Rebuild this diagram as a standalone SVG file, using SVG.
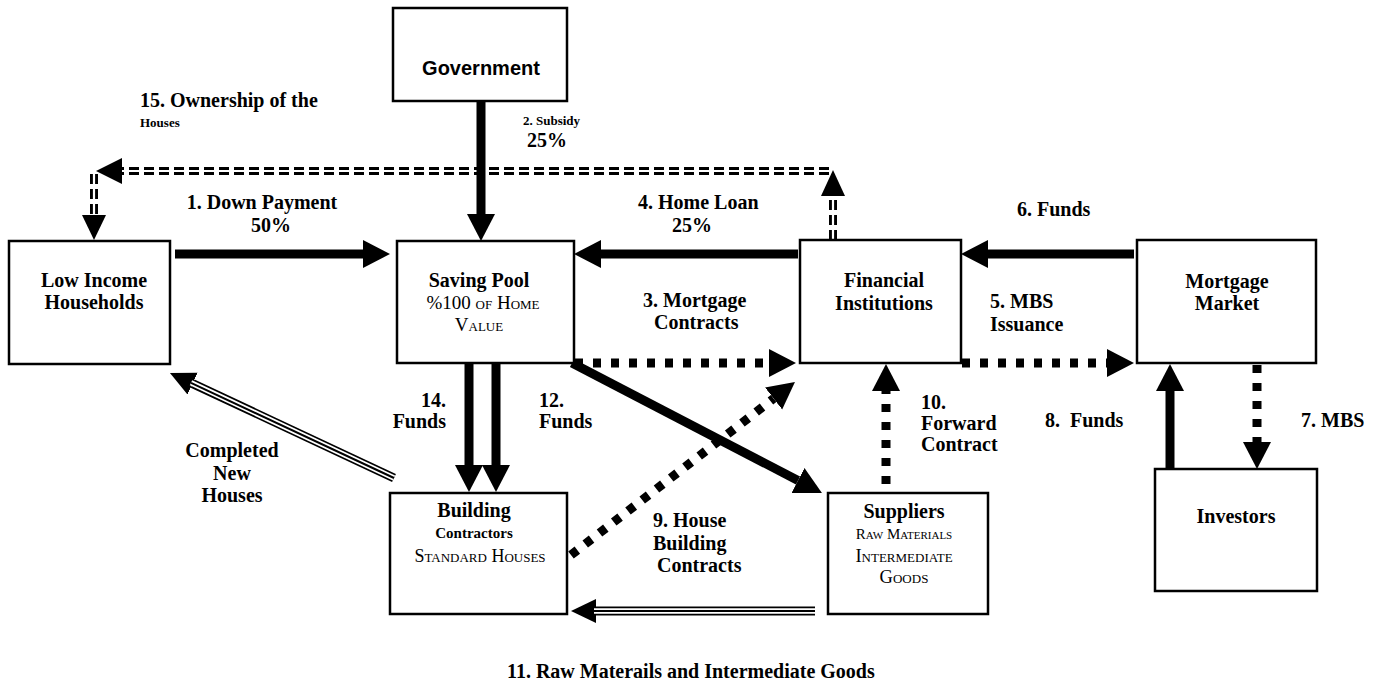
<svg xmlns="http://www.w3.org/2000/svg" width="1373" height="685" viewBox="0 0 1373 685">
<style>
.box{fill:#fff;stroke:#000;stroke-width:2.5}
.t{font-family:"Liberation Serif","Times New Roman",serif;font-weight:bold;font-size:20px;fill:#000}
.s13{font-size:13px}
.s15{font-size:15px}
.sc{font-family:"Liberation Serif","Times New Roman",serif;font-weight:normal;font-variant:small-caps;fill:#000}
.mid{text-anchor:middle}
.end{text-anchor:end}
.solid{fill:none;stroke:#000;stroke-width:9}
.dot{fill:none;stroke:#000;stroke-width:9;stroke-dasharray:8 10}
.dbl{fill:none;stroke:#000;stroke-width:8;stroke-dasharray:10 5}
.dblw{fill:none;stroke:#fff;stroke-width:2.2}
.tri1{fill:none;stroke:#000;stroke-width:9}
.tri2{fill:none;stroke:#fff;stroke-width:5.5}
.tri3{fill:none;stroke:#000;stroke-width:2}
</style>
<defs>
<marker id="ah" markerUnits="userSpaceOnUse" markerWidth="27" markerHeight="30" refX="0" refY="15" orient="auto">
<path d="M0,1 L27,15 L0,29 z" fill="#000"/>
</marker>
<marker id="ah2" markerUnits="userSpaceOnUse" markerWidth="25" markerHeight="26" refX="0" refY="13" orient="auto">
<path d="M0,1 L25,13 L0,25 z" fill="#000"/>
</marker>
</defs>
<rect width="1373" height="685" fill="#fff"/>

<g id="connectors">
<!-- 15 Ownership (double dashed) -->
<path class="dbl" d="M833,240 V196"/>
<path class="dblw" d="M833,240 V196"/>
<polygon points="833,170 821,196 845,196" fill="#000"/>
<path class="dbl" d="M829,171 H121"/>
<path class="dblw" d="M829,171 H121"/>
<polygon points="96,171 122,158 122,184" fill="#000"/>
<path class="dbl" d="M94,174 V215"/>
<path class="dblw" d="M94,174 V215"/>
<polygon points="94,240 82,215 106,215" fill="#000"/>
<!-- 1 Down payment -->
<path class="solid" d="M175,254 H363" marker-end="url(#ah)"/>
<!-- 2 Subsidy -->
<path class="solid" d="M481,101 V214" marker-end="url(#ah)"/>
<!-- 4 Home loan -->
<path class="solid" d="M798,254 H601" marker-end="url(#ah)"/>
<!-- 6 Funds -->
<path class="solid" d="M1134,254 H988" marker-end="url(#ah)"/>
<!-- 3 Mortgage contracts -->
<path class="dot" d="M575,363 H769" marker-end="url(#ah)"/>
<!-- 5 MBS issuance -->
<path class="dot" d="M962,363 H1107" marker-end="url(#ah)"/>
<!-- 7 MBS -->
<path class="dot" d="M1257,365 V442" marker-end="url(#ah)"/>
<!-- 8 Funds -->
<path class="solid" d="M1170,469 V391" marker-end="url(#ah)"/>
<!-- 10 Forward contract -->
<path class="dot" d="M886,484 V391" marker-end="url(#ah)"/>
<!-- 9 House building contracts -->
<path class="dot" d="M571,555 L773.6,398.5" marker-end="url(#ah)"/>
<!-- Saving pool to suppliers -->
<path class="solid" d="M572,363 L798,480.5" marker-end="url(#ah)"/>
<!-- 14 / 12 Funds -->
<path class="solid" d="M469,364 V465" marker-end="url(#ah)"/>
<path class="solid" d="M496,364 V465" marker-end="url(#ah)"/>
<!-- Completed new houses -->
<path class="tri1" d="M394,478 L192.6,383.6" marker-end="url(#ah2)"/>
<path class="tri2" d="M394,478 L191,382.8"/>
<path class="tri3" d="M394,478 L191,382.8"/>
<!-- 11 Raw materials -->
<path class="tri1" d="M815,611 H596" marker-end="url(#ah2)"/>
<path class="tri2" d="M815,611 H594"/>
<path class="tri3" d="M815,611 H594"/>
</g>

<g id="government">
<rect class="box" x="393" y="8" width="174" height="93"/>
<text x="481" y="75" text-anchor="middle" style="font-family:'Liberation Sans',Arial,sans-serif;font-weight:bold;font-size:20px">Government</text>
</g>
<g id="low-income-households">
<rect class="box" x="9" y="241" width="161" height="123"/>
<text class="t mid" x="94" y="287">Low Income</text>
<text class="t mid" x="94" y="309">Households</text>
</g>
<g id="saving-pool">
<rect class="box" x="397" y="241" width="177" height="122"/>
<text class="t mid" x="479" y="287">Saving Pool</text>
<text class="sc mid" x="483" y="309" font-size="19">%100 of Home</text>
<text class="sc mid" x="479" y="331" font-size="19">Value</text>
</g>
<g id="financial-institutions">
<rect class="box" x="800" y="240" width="161" height="123"/>
<text class="t mid" x="884" y="287">Financial</text>
<text class="t mid" x="884" y="310">Institutions</text>
</g>
<g id="mortgage-market">
<rect class="box" x="1137" y="240" width="179" height="123"/>
<text class="t mid" x="1227" y="288">Mortgage</text>
<text class="t mid" x="1227" y="310">Market</text>
</g>
<g id="building-contractors">
<rect class="box" x="390" y="493" width="177" height="121"/>
<text class="t mid" x="474" y="517">Building</text>
<text class="t mid s15" x="474" y="538">Contractors</text>
<text class="sc mid" x="480" y="562" font-size="18">Standard Houses</text>
</g>
<g id="suppliers">
<rect class="box" x="828" y="493" width="160" height="121"/>
<text class="t mid" x="904" y="518">Suppliers</text>
<text class="sc mid" x="904" y="539" font-size="15">Raw Materials</text>
<text class="sc mid" x="904" y="562" font-size="18.5">Intermediate</text>
<text class="sc mid" x="904" y="583" font-size="18.5">Goods</text>
</g>
<g id="investors">
<rect class="box" x="1155" y="469" width="162" height="122"/>
<text class="t mid" x="1236" y="523">Investors</text>
</g>

<g id="labels">
<text class="t" x="140" y="107">15. Ownership of the</text>
<text class="t s13" x="140" y="127">Houses</text>
<text class="t s13" x="523" y="125">2. Subsidy</text>
<text class="t" x="527" y="147">25%</text>
<text class="t mid" x="262" y="209">1. Down Payment</text>
<text class="t mid" x="271" y="232">50%</text>
<text class="t" x="638" y="209">4. Home Loan</text>
<text class="t" x="672" y="232">25%</text>
<text class="t" x="1017" y="216">6. Funds</text>
<text class="t" x="643" y="307">3. Mortgage</text>
<text class="t" x="654" y="329">Contracts</text>
<text class="t" x="990" y="308">5. MBS</text>
<text class="t" x="990" y="331">Issuance</text>
<text class="t end" x="446" y="407">14.</text>
<text class="t end" x="446" y="428">Funds</text>
<text class="t" x="539" y="407">12.</text>
<text class="t" x="539" y="428">Funds</text>
<text class="t mid" x="232" y="457">Completed</text>
<text class="t mid" x="232" y="480">New</text>
<text class="t mid" x="232" y="502">Houses</text>
<text class="t" x="653" y="527">9. House</text>
<text class="t" x="653" y="550">Building</text>
<text class="t" x="657" y="572">Contracts</text>
<text class="t" x="921" y="409">10.</text>
<text class="t" x="921" y="430">Forward</text>
<text class="t" x="921" y="451">Contract</text>
<text class="t" x="1045" y="427">8.&#160; Funds</text>
<text class="t" x="1301" y="427">7. MBS</text>
<text class="t" x="507" y="678">11. Raw Materails and Intermediate Goods</text>
</g>
</svg>
